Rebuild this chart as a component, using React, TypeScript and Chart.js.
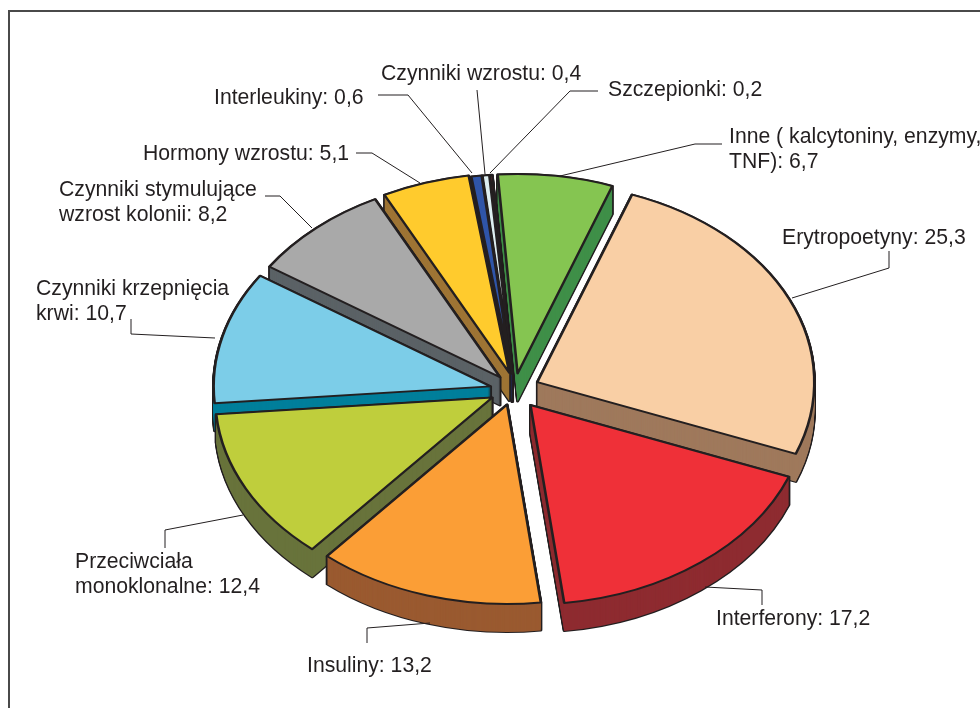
import React, { useEffect, useRef } from "react";
import { Chart, registerables } from "chart.js";

Chart.register(...registerables);

// Share of each product group, clockwise from the top right slice.
const categories = [
  "Erytropoetyny",
  "Interferony",
  "Insuliny",
  "Przeciwciała monoklonalne",
  "Czynniki krzepnięcia krwi",
  "Czynniki stymulujące wzrost kolonii",
  "Hormony wzrostu",
  "Interleukiny",
  "Czynniki wzrostu",
  "Szczepionki",
  "Inne ( kalcytoniny, enzymy, TNF)",
];
const values = [25.3, 17.2, 13.2, 12.4, 10.7, 8.2, 5.1, 0.6, 0.4, 0.2, 6.7];
const topColors = ["#F9CFA5", "#EF3038", "#FB9E36", "#BFCE3C", "#7CCDE8", "#A9A9A9", "#FFCB2D", "#2F55A8", "#DDEEF0", "#D9343A", "#85C551"];
const wallColors = ["#9F795C", "#8E2B30", "#9A5A30", "#68733B", "#007F9B", "#5B6266", "#9E7434", "#1F2F66", "#333333", "#7A1E20", "#3F8F48"];

// How far each slice is pulled out of the disc, plus a small per-slice adjustment.
const explode = [30, 30, 24, 20, 20, 18, 22, 24, 24, 24, 26];
const nudgeX = [0, 2, 4, 0, 0, 2, 6, 5, 5, 4, 4];
const nudgeY = [0, -3, -3, 0, -1, -4, -3, 0, 0, 0, 1];

// Text blocks: first-line baseline position plus the lines themselves.
const labelLines = [
  { x: 608, y: 96, lines: ["Szczepionki: 0,2"] },
  { x: 381, y: 80, lines: ["Czynniki wzrostu: 0,4"] },
  { x: 214, y: 104, lines: ["Interleukiny: 0,6"] },
  { x: 143, y: 160, lines: ["Hormony wzrostu: 5,1"] },
  { x: 59, y: 196, lines: ["Czynniki stymulujące", "wzrost kolonii: 8,2"] },
  { x: 36, y: 295, lines: ["Czynniki krzepnięcia", "krwi: 10,7"] },
  { x: 729, y: 143, lines: ["Inne ( kalcytoniny, enzymy,", "TNF): 6,7"] },
  { x: 782, y: 244, lines: ["Erytropoetyny: 25,3"] },
  { x: 716, y: 625, lines: ["Interferony: 17,2"] },
  { x: 307, y: 672, lines: ["Insuliny: 13,2"] },
  { x: 75, y: 568, lines: ["Przeciwciała", "monoklonalne: 12,4"] },
];

// Thin callout lines joining the text blocks to the slices.
const leaders = [
  [[378, 95], [408, 95], [472, 173]],
  [[477, 90], [485, 174]],
  [[598, 91], [570, 91], [490, 173]],
  [[722, 144], [695, 144], [560, 176]],
  [[356, 153], [372, 153], [420, 183]],
  [[265, 196], [280, 196], [312, 228]],
  [[131, 319], [131, 334], [215, 338]],
  [[889, 251], [889, 268], [792, 298]],
  [[705, 587], [762, 590], [762, 605]],
  [[367, 643], [367, 628], [430, 623]],
  [[165, 548], [165, 530], [243, 515]],
];

const PIE_X = 510;
const PIE_Y = 391;
const TILT = 0.72;
const DEPTH = 28;
const INK = "#231F20";

// Draws the pie as a tilted, extruded disc and adds callouts and the frame.
const tiltedPie = {
  id: "tiltedPie",
  beforeDatasetsDraw(chart: any) {
    const { ctx } = chart;
    const arcs = chart.getDatasetMeta(0).data.map((arc: any, i: number) => ({ arc, i }));
    const midAngle = (a: any) => (a.startAngle + a.endAngle) / 2;
    arcs.sort((p: any, q: any) => Math.sin(midAngle(p.arc)) - Math.sin(midAngle(q.arc)));

    const paint = (arc: any, i: number, dy: number, fill: string, stroke: string, width: number) => {
      const base = arc.options;
      const mid = midAngle(arc);
      arc.options = { ...base, backgroundColor: fill, borderColor: stroke, borderWidth: width, borderJoinStyle: "round" };
      ctx.save();
      ctx.translate(
        PIE_X + nudgeX[i] + Math.cos(mid) * explode[i],
        PIE_Y + nudgeY[i] + dy + Math.sin(mid) * explode[i] * TILT,
      );
      ctx.scale(1, TILT);
      ctx.translate(-arc.x, -arc.y);
      arc.draw(ctx);
      ctx.restore();
      arc.options = base;
    };

    for (const { arc, i } of arcs) {
      for (let dy = DEPTH; dy >= 0; dy--) paint(arc, i, dy, INK, INK, 3);
      for (let dy = DEPTH; dy >= 0; dy--) paint(arc, i, dy, wallColors[i], wallColors[i], 0);
      paint(arc, i, 0, topColors[i], INK, 2.6);
    }
    return false;
  },
  afterDraw(chart: any) {
    const { ctx } = chart;
    ctx.save();
    ctx.strokeStyle = "#4A4A4A";
    ctx.lineWidth = 2;
    ctx.beginPath();
    ctx.moveTo(9, 708);
    ctx.lineTo(9, 11);
    ctx.lineTo(980, 11);
    ctx.stroke();

    ctx.strokeStyle = INK;
    ctx.lineWidth = 1;
    for (const path of leaders) {
      ctx.beginPath();
      path.forEach(([x, y], n) => (n ? ctx.lineTo(x, y) : ctx.moveTo(x, y)));
      ctx.stroke();
    }

    ctx.fillStyle = INK;
    ctx.font = '21.2px "Liberation Sans", Arial, sans-serif';
    ctx.textBaseline = "alphabetic";
    for (const block of labelLines) {
      block.lines.forEach((line, n) => ctx.fillText(line, block.x, block.y + n * 24.5));
    }
    ctx.restore();
  },
};

export default function App() {
  const canvasRef = useRef<HTMLCanvasElement>(null);
  useEffect(() => {
    const chart = new Chart(canvasRef.current as HTMLCanvasElement, {
      type: "pie",
      data: {
        labels: categories,
        datasets: [{ data: values, backgroundColor: topColors, borderColor: INK, borderWidth: 2 }],
      },
      options: {
        responsive: false,
        animation: false,
        rotation: 20,
        radius: 277,
        layout: { padding: 0 },
        plugins: { legend: { display: false }, tooltip: { enabled: false } },
      },
      plugins: [tiltedPie],
    } as any);
    return () => chart.destroy();
  }, []);
  return (
    <div style={{ position: "absolute", left: 0, top: 0, width: 980, height: 708, background: "#fff" }}>
      <canvas ref={canvasRef} width={980} height={708} style={{ display: "block" }} />
    </div>
  );
}
